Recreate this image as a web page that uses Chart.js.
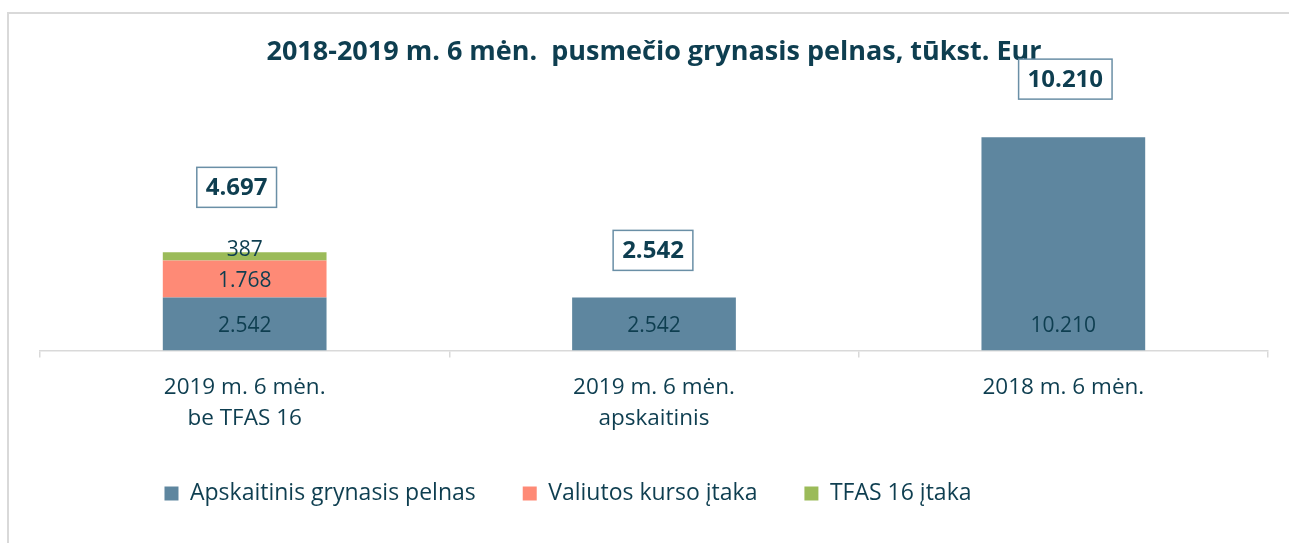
<!DOCTYPE html>
<html>
<head>
<meta charset="utf-8">
<script src="https://cdn.jsdelivr.net/npm/chart.js@4.4.0/dist/chart.umd.min.js"></script>
<style>
  html, body { margin: 0; padding: 0; background: #fff; overflow: hidden; }
  #frame { position: absolute; left: 7px; top: 12px; width: 1400px; height: 600px; border: 2px solid #d9d9d9; }
  #wrap { position: absolute; left: 0; top: 0; width: 1289px; height: 543px; }
</style>
</head>
<body>
<div id="frame"></div>
<div id="wrap"><canvas id="chart"></canvas></div>
<script>
// **Data

let categories = [['2019 m. 6 mėn.', 'be TFAS 16'], ['2019 m. 6 mėn.', 'apskaitinis'], '2018 m. 6 mėn.'];
let netProfit = [2542, 2542, 10210];
let fxEffect = [1768, null, null];
let ifrsEffect = [387, null, null];
let seriesNames = ['Apskaitinis grynasis pelnas', 'Valiutos kurso įtaka', 'TFAS 16 įtaka'];

// colours
let textColor = '#0e3e50';
let blue = '#5e869f';
let salmon = '#fe8a76';
let green = '#9bbb59';

function fmt(v){
  return String(v).replace(/\B(?=(\d{3})+(?!\d))/g, '.');
}

// draws the numbers inside the bars and the boxed totals above
let labelPlugin = {
  id: 'barLabels',
  afterLayout(chart, args, opts){
    // legend sits a bit left of the plot centre in the original
    chart.legend.left += opts.legendShift;
    chart.legend.right += opts.legendShift;
  },
  afterDatasetsDraw(chart, args, opts){
    let ctx = chart.ctx;
    let yScale = chart.scales.y;
    ctx.save();
    ctx.textAlign = 'center';
    ctx.textBaseline = 'middle';
    ctx.fillStyle = textColor;
    ctx.font = '21px "Open Sans"';
    chart.data.datasets.forEach((ds, d) => {
      let meta = chart.getDatasetMeta(d);
      meta.data.forEach((bar, i) => {
        let v = ds.data[i];
        if (v == null) return;
        let y = opts.anchor[d] === 'base' ? bar.base - 24 : (bar.y + bar.base) / 2;
        ctx.fillText(fmt(v), bar.x, y + (opts.shifts[d] || 0));
      });
    });

    // totals in boxes
    ctx.font = 'bold 24px "Open Sans"';
    let x0 = chart.getDatasetMeta(0).data;
    for (let i = 0; i < categories.length; i++){
      let total = 0;
      chart.data.datasets.forEach(ds => { total += ds.data[i] || 0; });
      let text = fmt(total);
      let w = ctx.measureText(text).width + 18;
      let h = 40;
      let cx = x0[i].x + opts.boxShiftX[i];
      let bottom = yScale.getPixelForValue(total) - opts.boxGap[i];
      ctx.fillStyle = '#fff';
      ctx.fillRect(cx - w / 2, bottom - h, w, h);
      ctx.strokeStyle = '#6a8fa6';
      ctx.lineWidth = 1.5;
      ctx.strokeRect(cx - w / 2, bottom - h, w, h);
      ctx.fillStyle = textColor;
      ctx.fillText(text, cx, bottom - h / 2 + 1);
    }
    ctx.restore();
  }
};

let chart = new Chart(document.getElementById('chart'), {
  type: 'bar',
  data: {
    labels: categories,
    datasets: [
      { label: seriesNames[0], data: netProfit, backgroundColor: blue },
      { label: seriesNames[1], data: fxEffect, backgroundColor: salmon },
      { label: seriesNames[2], data: ifrsEffect, backgroundColor: green }
    ]
  },
  options: {
    responsive: true,
    maintainAspectRatio: false,
    animation: false,
    devicePixelRatio: 1,
    layout: { padding: { left: 40, right: 21, top: 0, bottom: 28 } },
    datasets: { bar: { barPercentage: 0.4, categoryPercentage: 1 } },
    scales: {
      x: {
        stacked: true,
        grid: { offset: true, drawOnChartArea: false, drawTicks: true, tickLength: 7, color: '#d9d9d9', lineWidth: 1.5 },
        border: { display: true, color: '#d9d9d9', width: 1.5 },
        ticks: { color: textColor, font: { family: 'Open Sans', size: 22.5, lineHeight: 1.38 }, padding: 15, maxRotation: 0 },
        afterFit(scale){ scale.height = 84.5; }
      },
      y: {
        stacked: true,
        display: false,
        min: 0,
        max: 13020
      }
    },
    plugins: {
      title: {
        display: true,
        text: '2018-2019 m. 6 mėn.  pusmečio grynasis pelnas, tūkst. Eur',
        color: textColor,
        font: { family: 'Open Sans', size: 27, weight: 'bold' },
        padding: { top: 36, bottom: 10 }
      },
      legend: {
        position: 'bottom',
        labels: { color: textColor, font: { family: 'Open Sans', size: 23 }, boxWidth: 14, boxHeight: 14, padding: 47 }
      },
      tooltip: { enabled: false },
      barLabels: {
        anchor: ['base', 'center', 'center'],
        shifts: [0, 2, -6],
        boxGap: [45, 27, 38],
        boxShiftX: [-8, -1, 2],
        legendShift: -86
      }
    }
  },
  plugins: [labelPlugin]
});
</script>
</body>
</html>
